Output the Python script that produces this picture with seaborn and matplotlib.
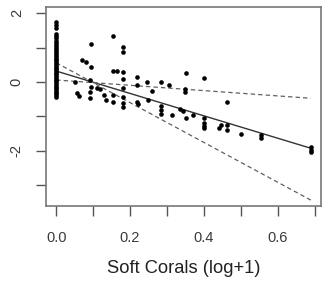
import numpy as np
import pandas as pd
import matplotlib
matplotlib.use("Agg")
import matplotlib.pyplot as plt
import seaborn as sns

# points at zero soft coral cover (x = 0)
zero_y = [1.74, 1.66, 1.57, 1.40, 1.33, 1.27, 1.20, 1.14, 1.08, 1.02, 0.96,
          0.90, 0.85, 0.80, 0.74, 0.68, 0.63, 0.58, 0.52, 0.47, 0.42, 0.37,
          0.32, 0.27, 0.22, 0.17, 0.12, 0.07, 0.02, -0.03, -0.08, -0.13,
          -0.18, -0.23, -0.28, -0.33, -0.38, -0.44]

# remaining points
coral_x = [0.05, 0.056, 0.062, 0.07, 0.08, 0.094, 0.094, 0.092, 0.095, 0.092,
           0.092, 0.11, 0.12, 0.13, 0.135, 0.153, 0.153, 0.165, 0.155, 0.155,
           0.18, 0.18, 0.18, 0.18, 0.18, 0.18, 0.18, 0.18, 0.22, 0.22,
           0.22, 0.222, 0.245, 0.248, 0.26, 0.285, 0.285, 0.285, 0.285, 0.307,
           0.315, 0.335, 0.343, 0.348, 0.348, 0.353, 0.353, 0.37, 0.40, 0.40,
           0.40, 0.40, 0.40, 0.44, 0.447, 0.464, 0.464, 0.464, 0.50, 0.555,
           0.555, 0.69, 0.69, 0.69]
coral_y = [0.0, -0.33, -0.40, 0.64, 0.58, 1.10, 0.44, 0.06, -0.14, -0.29,
           -0.47, -0.18, -0.20, -0.38, -0.52, 1.34, 0.32, 0.32, -0.38, -0.58,
           1.02, 0.87, 0.29, 0.10, -0.17, -0.44, -0.61, -0.73, 0.15, -0.09,
           -0.58, -0.64, 0.0, -0.52, -0.26, 0.0, -0.70, -0.81, -0.93, -0.09,
           -0.96, -0.79, -0.84, -0.20, -0.29, 0.26, -1.05, -0.96, 0.12, -1.05,
           -1.19, -1.28, -1.34, -1.34, -1.25, -0.59, -1.25, -1.40, -1.51, -1.54,
           -1.62, -1.90, -1.97, -2.04]

# fitted lines: intercept / slope
fit_names = ["fit", "upper", "lower"]
fit_intercepts = [0.32, 0.06, 0.56]
fit_slopes = [-3.25, -0.77, -5.78]

y_ticks = [2, 1, 0, -1, -2, -3]
y_labels = ["2", "", "0", "", "-2", ""]
x_ticks = [0.0, 0.1, 0.2, 0.3, 0.4, 0.5, 0.6, 0.7]
x_labels = ["0.0", "", "0.2", "", "0.4", "", "0.6", ""]

pts = pd.DataFrame({
    "x": [0.0] * len(zero_y) + coral_x,
    "y": zero_y + coral_y,
})

x_end = pts["x"].max()
lines = pd.DataFrame([
    {"name": n, "x": xx, "y": a + b * xx}
    for n, a, b in zip(fit_names, fit_intercepts, fit_slopes)
    for xx in (0.0, x_end)
])

sns.set_style("white")
plt.rcParams["font.family"] = ["Liberation Sans", "DejaVu Sans"]

fig = plt.figure(figsize=(3.35, 2.81), dpi=100)
ax = fig.add_axes([46 / 335, 1 - 206 / 281, 275 / 335, 199 / 281])

sns.scatterplot(data=pts, x="x", y="y", ax=ax, color="black", s=11,
                linewidth=0, legend=False, zorder=3)

sns.lineplot(data=lines[lines["name"] == "fit"], x="x", y="y", ax=ax,
             color="#333333", linewidth=1.0)
for n in ["upper", "lower"]:
    sns.lineplot(data=lines[lines["name"] == n], x="x", y="y", ax=ax,
                 color="#606060", linewidth=0.9, linestyle=(0, (3.5, 2.5)))

ax.set_xlim(-0.0276, 0.7176)
ax.set_ylim(-3.6, 2.18)

ax.set_xticks(x_ticks)
ax.set_xticklabels(x_labels)
ax.set_yticks(y_ticks)
ax.set_yticklabels(y_labels, rotation=90, va="center", ha="right")

ax.tick_params(axis="both", direction="out", length=7, width=1,
               color="#555555", labelcolor="#3a3a3a", labelsize=10.5,
               left=True, bottom=True)
ax.tick_params(axis="x", pad=11)
ax.tick_params(axis="y", pad=9)

for sp in ax.spines.values():
    sp.set_color("#777777")
    sp.set_linewidth(1.2)

ax.set_xlabel("Soft Corals (log+1)", fontsize=13.2, color="#222222", labelpad=11)
ax.set_ylabel("")

fig.savefig("out.png", dpi=100)
